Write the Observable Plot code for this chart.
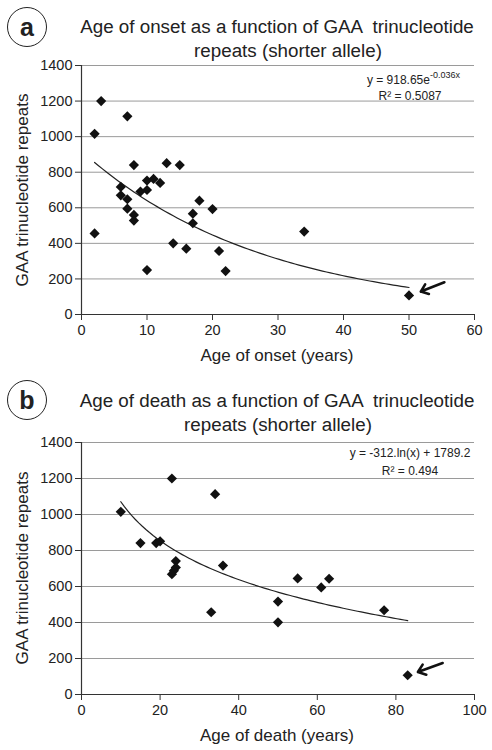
<!DOCTYPE html>
<html>
<head>
<meta charset="utf-8">
<script src="https://cdn.jsdelivr.net/npm/d3@7"></script>
<script src="https://cdn.jsdelivr.net/npm/@observablehq/plot@0.6"></script>
<style>
  html, body { margin: 0; padding: 0; background: #fff; }
  #wrap { position: relative; width: 492px; height: 750px; font-family: "Liberation Sans", Arial, sans-serif; color: #222; overflow: hidden; }
  .panel { position: absolute; left: 0; width: 492px; }
  .t { position: absolute; white-space: pre; transform: translate(-50%, -50%); line-height: 1; }
  .title { font-size: 18.8px; }
  .axl { font-size: 17px; }
  .eq { font-size: 12px; }
  .eqr { position: absolute; white-space: pre; transform: translate(-100%, -50%); line-height: 1; font-size: 12px; }
  .ylab { position: absolute; white-space: pre; font-size: 17px; transform: translate(-50%, -50%) rotate(-90deg); line-height: 1; }
  .circ { position: absolute; width: 40px; height: 40px; border: 1.6px solid #222; border-radius: 50%; transform: translate(-50%, -50%);
          display: flex; align-items: center; justify-content: center; font-weight: bold; font-size: 25px; box-sizing: border-box; }
  sup { font-size: 9px; vertical-align: 0; position: relative; top: -6px; }
</style>
</head>
<body>
<div id="wrap"></div>
<script>
// ---------- Panel a: Age of onset vs GAA repeats ----------
const onsetAge = [2, 3, 7, 2, 8, 13, 15, 6, 6, 7, 7, 8, 8, 9, 10, 10, 11, 12, 10, 14, 16, 17, 17, 18, 20, 21, 22, 34, 50];
const onsetGAA = [1016, 1200, 1114, 456, 840, 851, 840, 717, 670, 648, 595, 560, 528, 691, 753, 700, 762, 740, 250, 400, 370, 567, 513, 640, 593, 357, 244, 466, 107];
const onsetXTicks = [0, 10, 20, 30, 40, 50, 60];
// exponential trend y = a * e^(b x) (from the chart's own equation)
const onsetFit = [918.65, -0.036];

// ---------- Panel b: Age of death vs GAA repeats ----------
const deathAge = [10, 23, 34, 15, 19, 20, 24, 24, 23.5, 23, 36, 33, 50, 50, 55, 61, 63, 77, 83];
const deathGAA = [1015, 1200, 1113, 841, 841, 851, 741, 705, 688, 668, 716, 457, 516, 401, 645, 595, 643, 468, 107];
const deathXTicks = [0, 20, 40, 60, 80, 100];
// logarithmic trend y = a * ln(x) + b
const deathFit = [-312, 1789.2];

const yTicks = [0, 200, 400, 600, 800, 1000, 1200, 1400];

const wrap = document.getElementById("wrap");

function makePanel(opts) {
  const pts = opts.xs.map((x, i) => ({x, y: opts.ys[i]}));
  const xmin = d3.min(opts.xs), xmax = d3.max(opts.xs);
  const steps = 80;
  const curve = d3.range(steps + 1).map(i => {
    const x = xmin + (xmax - xmin) * i / steps;
    return {x, y: opts.fit(x)};
  });
  // the highlighted (arrowed) case: lowest repeat count
  const flagged = [pts.reduce((a, b) => (b.y < a.y ? b : a))];
  const chart = Plot.plot({
    width: 492,
    height: 375,
    marginLeft: 81,
    marginRight: 18,
    marginTop: opts.mt,
    marginBottom: 375 - opts.mt - opts.ph,
    style: {fontFamily: "'Liberation Sans', Arial, sans-serif", fontSize: "14.5px", color: "#222", background: "transparent"},
    x: {domain: [0, opts.xTicks[opts.xTicks.length - 1]]},
    y: {domain: [0, 1400]},
    marks: [
      Plot.gridY(yTicks, {stroke: "#9a9a9a", strokeOpacity: 1, strokeWidth: 1}),
      Plot.axisY({ticks: yTicks, tickFormat: d3.format("d"), tickSize: 6, tickPadding: 3, label: null, fontSize: 14.5, stroke: "#333"}),
      Plot.axisX({ticks: opts.xTicks, tickFormat: d3.format("d"), tickSize: 6, tickPadding: 4, label: null, fontSize: 14.5, stroke: "#333"}),
      Plot.ruleY([0], {stroke: "#333", strokeWidth: 1.2}),
      Plot.ruleX([0], {stroke: "#333", strokeWidth: 1.2}),
      Plot.line(curve, {x: "x", y: "y", stroke: "#222", strokeWidth: 1.2}),
      Plot.dot(pts, {x: "x", y: "y", symbol: "diamond2", r: 4.6, fill: "#111", stroke: "none"}),
      Plot.arrow(flagged, {
        x1: d => d.x + opts.arrow[0], y1: d => d.y + opts.arrow[1],
        x2: d => d.x + opts.arrow[2], y2: d => d.y + opts.arrow[3],
        bend: 0, stroke: "#111", strokeWidth: 2.6, headLength: 11, headAngle: 75
      })
    ]
  });
  const panel = document.createElement("div");
  panel.className = "panel";
  panel.style.top = opts.top + "px";
  panel.style.height = "375px";
  panel.appendChild(chart);
  wrap.appendChild(panel);
}

makePanel({
  top: 0, mt: 65, ph: 249, xs: onsetAge, ys: onsetGAA, xTicks: onsetXTicks,
  fit: x => onsetFit[0] * Math.exp(onsetFit[1] * x),
  arrow: [5.4, 74, 1.8, 22]
});
makePanel({
  top: 375, mt: 67, ph: 252, xs: deathAge, ys: deathGAA, xTicks: deathXTicks,
  fit: x => deathFit[0] * Math.log(x) + deathFit[1],
  arrow: [8.9, 68, 2.6, 18]
});

function addText(html, cls, x, y) {
  const d = document.createElement("div");
  d.className = cls;
  d.style.left = x + "px";
  d.style.top = y + "px";
  d.innerHTML = html;
  wrap.appendChild(d);
  return d;
}

// Panel a labels
addText("a", "circ", 27, 27);
addText("Age of onset as a function of GAA  trinucleotide", "t title", 277, 27);
addText("repeats (shorter allele)", "t title", 288, 51);
addText("Age of onset (years)", "t axl", 277, 355);
addText("GAA trinucleotide repeats", "ylab", 22, 190);
addText("y = 918.65e<sup>" + onsetFit[1].toFixed(3) + "x</sup>", "eqr", 460, 80);
addText("R² = 0.5087", "t eq", 410, 96);

// Panel b labels
addText("b", "circ", 27, 400);
addText("Age of death as a function of GAA  trinucleotide", "t title", 277, 401);
addText("repeats (shorter allele)", "t title", 278, 425);
addText("Age of death (years)", "t axl", 277, 735);
addText("GAA trinucleotide repeats", "ylab", 22, 568);
addText("y = " + deathFit[0] + ".ln(x) + " + deathFit[1], "t eq", 410, 453);
addText("R² = 0.494", "t eq", 410, 471);
</script>
</body>
</html>
